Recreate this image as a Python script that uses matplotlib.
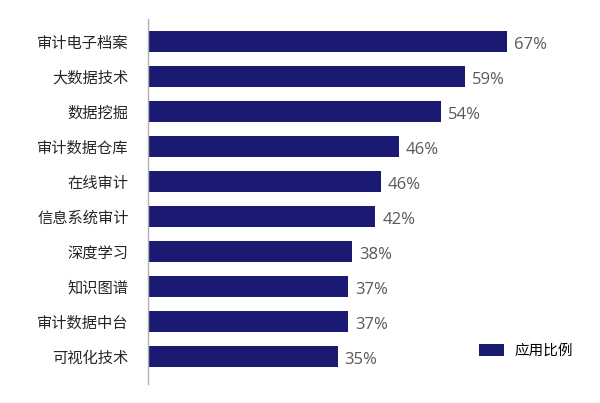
import matplotlib
matplotlib.use("Agg")
import matplotlib.pyplot as plt

categories = ["审计电子档案", "大数据技术", "数据挖掘", "审计数据仓库", "在线审计",
              "信息系统审计", "深度学习", "知识图谱", "审计数据中台", "可视化技术"]
# bar lengths as drawn in the picture (one bar is drawn shorter than its label)
bar_values = [67, 59.1, 54.7, 46.8, 43.5, 42.4, 38.1, 37.3, 37.3, 35.4]
value_labels = ["67%", "59%", "54%", "46%", "46%", "42%", "38%", "37%", "37%", "35%"]
legend_label = "应用比例"

bar_color = "#1b1a72"
cjk = ["Noto Sans CJK SC", "DejaVu Sans"]
plt.rcParams["font.family"] = cjk

fig = plt.figure(figsize=(6, 4.03), dpi=100)
ax = fig.add_axes([148 / 600, 19 / 403, 442 / 600, 365 / 403])

pos = list(range(len(categories)))
bars = ax.barh(pos, bar_values, height=0.6, color=bar_color, label=legend_label)

ax.set_xlim(0, 442 / 5.36)
ax.set_ylim((384 - 41.5) / 35, (19 - 41.5) / 35)

ax.set_yticks(pos)
ax.set_yticklabels(categories, fontsize=11, color="#262626")
ax.tick_params(axis="y", length=0, pad=14)
ax.set_xticks([])

for s in ["top", "right", "bottom"]:
    ax.spines[s].set_visible(False)
ax.spines["left"].set_color("#b0b0b0")
ax.spines["left"].set_linewidth(1)

for b, lab in zip(bars, value_labels):
    ax.annotate(lab, (b.get_width(), b.get_y() + b.get_height() / 2),
                xytext=(5, -2.5), textcoords="offset points",
                ha="left", va="center", fontsize=12, color="#595959",
                family=["Open Sans", "DejaVu Sans"])

ax.legend(loc="center left", bbox_to_anchor=(479 / 600, 1 - 351 / 403),
          bbox_transform=fig.transFigure, frameon=False, borderpad=0,
          borderaxespad=0, handlelength=1.7, handleheight=0.95,
          handletextpad=0.75, prop={"family": cjk, "size": 10.5})

fig.savefig("out.png", dpi=100)
